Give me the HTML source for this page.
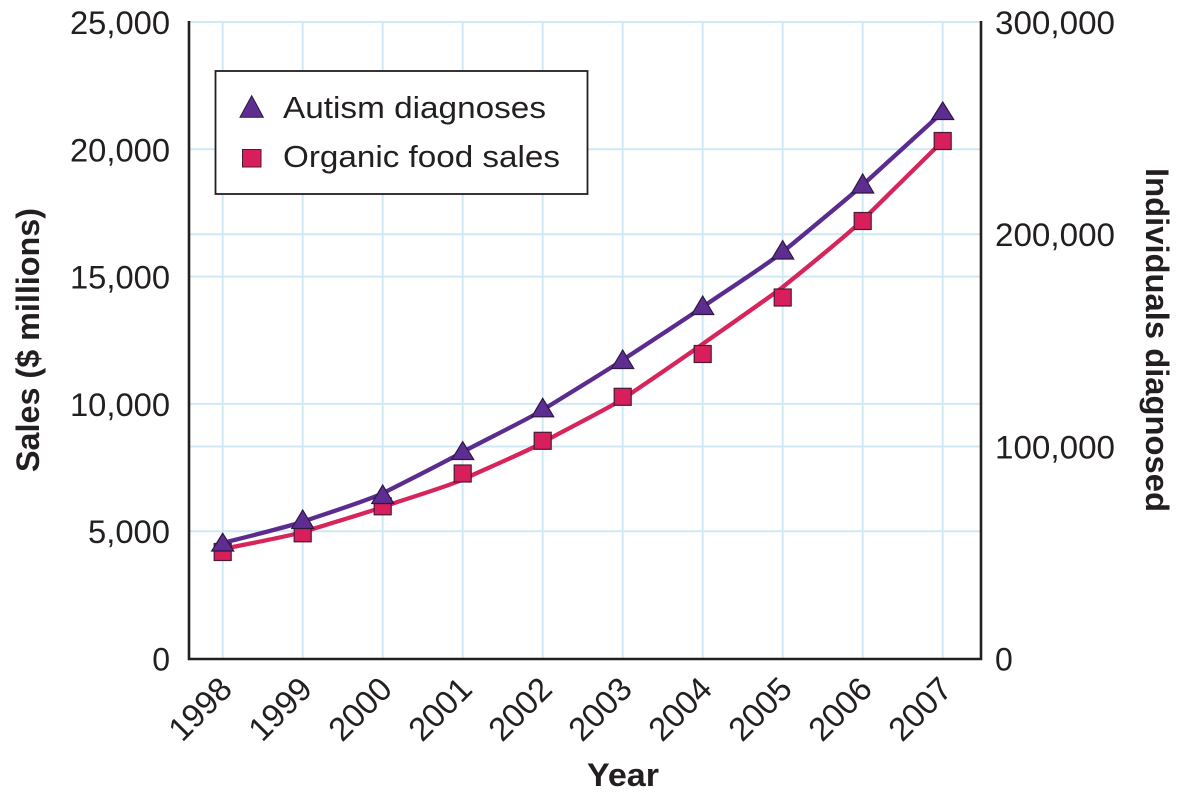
<!DOCTYPE html>
<html>
<head>
<meta charset="utf-8">
<style>
  html,body{margin:0;padding:0;background:#fff;}
  svg{display:block;}
  text{font-family:"Liberation Sans",Arial,Helvetica,sans-serif;fill:#231f20;}
</style>
</head>
<body>
<svg width="1182" height="797" viewBox="0 0 1182 797" xmlns="http://www.w3.org/2000/svg">
  <!-- grid -->
  <g stroke="#cfe9f4" stroke-width="2" fill="none">
    <line x1="189" y1="22" x2="981" y2="22"/>
    <line x1="189" y1="149.3" x2="981" y2="149.3"/>
    <line x1="189" y1="234.2" x2="981" y2="234.2"/>
    <line x1="189" y1="276.6" x2="981" y2="276.6"/>
    <line x1="189" y1="403.9" x2="981" y2="403.9"/>
    <line x1="189" y1="446.5" x2="981" y2="446.5"/>
    <line x1="189" y1="531.2" x2="981" y2="531.2"/>
    <line x1="222.7" y1="22" x2="222.7" y2="659"/>
    <line x1="302.7" y1="22" x2="302.7" y2="659"/>
    <line x1="382.7" y1="22" x2="382.7" y2="659"/>
    <line x1="462.7" y1="22" x2="462.7" y2="659"/>
    <line x1="542.7" y1="22" x2="542.7" y2="659"/>
    <line x1="622.7" y1="22" x2="622.7" y2="659"/>
    <line x1="702.7" y1="22" x2="702.7" y2="659"/>
    <line x1="782.7" y1="22" x2="782.7" y2="659"/>
    <line x1="862.7" y1="22" x2="862.7" y2="659"/>
    <line x1="942.7" y1="22" x2="942.7" y2="659"/>
  </g>
  <!-- axes -->
  <g stroke="#231f20" stroke-width="2.6" fill="none">
    <polyline points="189,21 189,659 981,659 981,21"/>
  </g>

  <!-- lines (smooth) -->
  <path fill="none" stroke="#d7245a" stroke-width="4.3" stroke-linecap="round"
    d="M222.7,549 C236,546.2 289.4,536.2 302.7,532 S369.4,512 382.7,507 S449.4,486 462.7,479.5 S529.4,450.5 542.7,442.5 S609.4,408 622.7,399 S689.4,353.5 702.7,344 S769.4,297.5 782.7,287 S849.4,233 862.7,220 S929.4,154 942.7,141"/>
  <path fill="none" stroke="#5b2c8f" stroke-width="4.3" stroke-linecap="round"
    d="M222.7,543 C236,539.5 289.4,526.5 302.7,521.7 S369.4,500 382.7,493.3 S449.4,459.5 462.7,452 S529.4,418.5 542.7,410 S609.4,369 622.7,360 S689.4,316.5 702.7,307 S769.4,263 782.7,252 S849.4,197 862.7,185 S929.4,124 942.7,112"/>

  <!-- squares -->
  <g fill="#d81e5b" stroke="#4a1a36" stroke-width="1.2">
    <rect x="214.2" y="543.5" width="17" height="17"/>
    <rect x="294.2" y="524.8" width="17" height="17"/>
    <rect x="374.2" y="497.8" width="17" height="17"/>
    <rect x="454.2" y="465" width="17" height="17"/>
    <rect x="534.2" y="432.3" width="17" height="17"/>
    <rect x="614.2" y="388.3" width="17" height="17"/>
    <rect x="694.2" y="345.5" width="17" height="17"/>
    <rect x="774.2" y="289" width="17" height="17"/>
    <rect x="854.2" y="212.5" width="17" height="17"/>
    <rect x="934.2" y="132.5" width="17" height="17"/>
  </g>
  <!-- triangles -->
  <g fill="#5e2d91" stroke="#2e1740" stroke-width="1.2" stroke-linejoin="miter">
    <polygon points="222.7,533.3 233.7,551 211.7,551"/>
    <polygon points="302.7,510 313.7,528.5 291.7,528.5"/>
    <polygon points="382.7,485 393.7,503.5 371.7,503.5"/>
    <polygon points="462.7,441.7 473.7,459.5 451.7,459.5"/>
    <polygon points="542.7,398.3 553.7,416.8 531.7,416.8"/>
    <polygon points="622.7,350 633.7,368.5 611.7,368.5"/>
    <polygon points="702.7,296 713.7,314.5 691.7,314.5"/>
    <polygon points="782.7,240.7 793.7,259 771.7,259"/>
    <polygon points="862.7,174 873.7,193 851.7,193"/>
    <polygon points="942.7,102 953.7,119.5 931.7,119.5"/>
  </g>

  <!-- legend -->
  <rect x="215.5" y="71" width="372" height="123" fill="#fff" stroke="#231f20" stroke-width="1.8"/>
  <polygon points="251.7,95.7 263.3,117.3 240,117.3" fill="#5e2d91" stroke="#2e1740" stroke-width="1"/>
  <rect x="242.5" y="149.5" width="18.5" height="17.5" fill="#d81e5b" stroke="#4a1a36" stroke-width="1"/>
  <text x="283" y="118" font-size="31" textLength="263" lengthAdjust="spacingAndGlyphs">Autism diagnoses</text>
  <text x="283" y="167" font-size="31" textLength="277" lengthAdjust="spacingAndGlyphs">Organic food sales</text>

  <!-- left ticks -->
  <g font-size="32" text-anchor="end">
    <text x="170" y="34" textLength="100" lengthAdjust="spacingAndGlyphs">25,000</text>
    <text x="170" y="161.3" textLength="100" lengthAdjust="spacingAndGlyphs">20,000</text>
    <text x="170" y="288.6" textLength="100" lengthAdjust="spacingAndGlyphs">15,000</text>
    <text x="170" y="415.9" textLength="100" lengthAdjust="spacingAndGlyphs">10,000</text>
    <text x="170" y="543.2" textLength="82" lengthAdjust="spacingAndGlyphs">5,000</text>
    <text x="170" y="670.5">0</text>
  </g>
  <!-- right ticks -->
  <g font-size="32" text-anchor="start">
    <text x="995" y="34" textLength="120" lengthAdjust="spacingAndGlyphs">300,000</text>
    <text x="995" y="246.2" textLength="120" lengthAdjust="spacingAndGlyphs">200,000</text>
    <text x="995" y="458.5" textLength="120" lengthAdjust="spacingAndGlyphs">100,000</text>
    <text x="995" y="670.5">0</text>
  </g>

  <!-- x ticks -->
  <g font-size="33" text-anchor="end">
    <text transform="translate(234,691) rotate(-45)">1998</text>
    <text transform="translate(314,691) rotate(-45)">1999</text>
    <text transform="translate(394,691) rotate(-45)">2000</text>
    <text transform="translate(474,691) rotate(-45)">2001</text>
    <text transform="translate(554,691) rotate(-45)">2002</text>
    <text transform="translate(634,691) rotate(-45)">2003</text>
    <text transform="translate(714,691) rotate(-45)">2004</text>
    <text transform="translate(794,691) rotate(-45)">2005</text>
    <text transform="translate(874,691) rotate(-45)">2006</text>
    <text transform="translate(954,691) rotate(-45)">2007</text>
  </g>

  <!-- axis titles -->
  <text x="587" y="786" font-size="32" font-weight="bold" textLength="72" lengthAdjust="spacingAndGlyphs">Year</text>
  <text transform="translate(39,340) rotate(-90)" font-size="32" font-weight="bold" text-anchor="middle" textLength="264" lengthAdjust="spacingAndGlyphs">Sales ($ millions)</text>
  <text transform="translate(1146,340) rotate(90)" font-size="32" font-weight="bold" text-anchor="middle" textLength="344" lengthAdjust="spacingAndGlyphs">Individuals diagnosed</text>
</svg>
</body>
</html>
